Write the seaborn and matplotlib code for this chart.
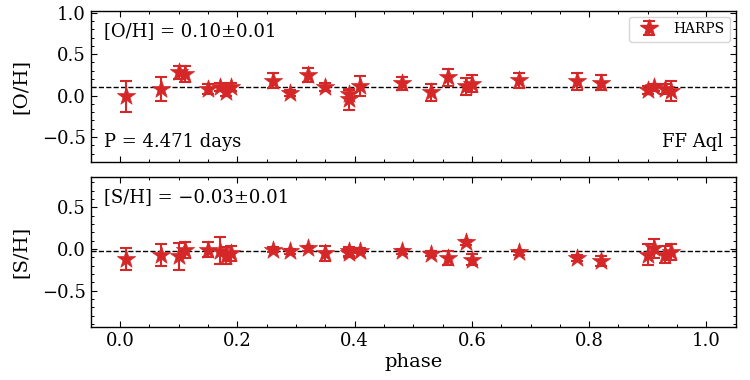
import numpy as np
import pandas as pd
import matplotlib
matplotlib.use("Agg")
import matplotlib.pyplot as plt
import seaborn as sns
from matplotlib.ticker import MultipleLocator, AutoMinorLocator
from matplotlib.lines import Line2D

phase = [0.01, 0.07, 0.10, 0.11, 0.15, 0.17, 0.18, 0.19, 0.26, 0.29, 0.32, 0.35,
         0.39, 0.39, 0.41, 0.48, 0.53, 0.56, 0.59, 0.60, 0.68, 0.78, 0.82, 0.90,
         0.91, 0.93, 0.94]
oh = [-0.01, 0.08, 0.28, 0.26, 0.08, 0.10, 0.04, 0.10, 0.18, 0.03, 0.245, 0.10,
      0.02, -0.045, 0.12, 0.15, 0.04, 0.22, 0.11, 0.145, 0.185, 0.17, 0.155, 0.07,
      0.10, 0.075, 0.055]
oh_err = [0.19, 0.15, 0.08, 0.10, 0.06, 0.05, 0.05, 0.05, 0.09, 0.04, 0.085, 0.05,
          0.05, 0.13, 0.12, 0.08, 0.10, 0.10, 0.10, 0.10, 0.09, 0.10, 0.09, 0.05,
          0.04, 0.06, 0.12]
sh = [-0.12, -0.07, -0.09, -0.01, -0.01, -0.02, -0.08, -0.05, -0.01, -0.03, 0.01, -0.05,
      -0.03, -0.05, -0.02, -0.03, -0.06, -0.11, 0.08, -0.13, -0.04, -0.11, -0.15, -0.07,
      0.01, -0.07, -0.04]
sh_err = [0.13, 0.13, 0.165, 0.10, 0.09, 0.16, 0.10, 0.09, 0.03, 0.03, 0.03, 0.09,
          0.05, 0.05, 0.03, 0.03, 0.03, 0.085, 0.03, 0.065, 0.03, 0.04, 0.06, 0.125,
          0.115, 0.10, 0.095]
oh_mean, oh_sig = 0.10, 0.01
sh_mean, sh_sig = -0.03, 0.01
period = 4.471
star = "FF Aql"
instrument = "HARPS"

df = pd.DataFrame({"phase": phase, "oh": oh, "oh_err": oh_err, "sh": sh, "sh_err": sh_err})

sns.set_theme(style="white")
plt.rcParams["font.family"] = ["DejaVu Serif"]
plt.rcParams["mathtext.fontset"] = "dejavuserif"
plt.rcParams["text.color"] = "black"
plt.rcParams["axes.labelcolor"] = "black"
plt.rcParams["xtick.color"] = "black"
plt.rcParams["ytick.color"] = "black"

red = "#d62728"
fs = 13
lfs = 14

fig = plt.figure(figsize=(7.5, 3.8), dpi=100)
ax1 = fig.add_axes([0.121, 0.574, 0.860, 0.397])
ax2 = fig.add_axes([0.121, 0.139, 0.860, 0.394])

def panel(ax, col, ecol, mean, ylim):
    eb = ax.errorbar(df["phase"], df[col], yerr=df[ecol], fmt="none", ecolor=red,
                     elinewidth=1.5, capsize=4, capthick=1.5, zorder=2)
    sns.scatterplot(data=df, x="phase", y=col, ax=ax, marker="*", s=190, color=red,
                    edgecolor=red, linewidth=0.5, zorder=3, legend=False)
    ax.axhline(mean, color="black", ls="--", lw=1.0, zorder=1)
    ax.set_xlim(-0.05, 1.05)
    ax.set_ylim(*ylim)
    ax.xaxis.set_major_locator(MultipleLocator(0.2))
    ax.xaxis.set_minor_locator(AutoMinorLocator(4))
    ax.yaxis.set_major_locator(MultipleLocator(0.5))
    ax.yaxis.set_minor_locator(AutoMinorLocator(5))
    ax.tick_params(which="both", direction="in", top=True, right=True,
                   bottom=True, left=True, labelsize=fs, colors="black")
    ax.tick_params(which="major", length=4, width=0.8)
    ax.tick_params(which="minor", length=2.2, width=0.7)
    for s in ax.spines.values():
        s.set_color("black")
        s.set_linewidth(1.0)
    return eb

eb1 = panel(ax1, "oh", "oh_err", oh_mean, (-0.8, 1.02))
panel(ax2, "sh", "sh_err", sh_mean, (-0.94, 0.86))

ax1.set_xlabel("")
ax1.tick_params(labelbottom=False)
ax1.set_ylabel("[O/H]", fontsize=lfs, labelpad=9)
ax2.set_ylabel("[S/H]", fontsize=lfs, labelpad=9)
ax2.set_xlabel("phase", fontsize=lfs, labelpad=2)

ax1.text(0.02, 0.93, f"[O/H] = {oh_mean:.2f}\u00b1{oh_sig:.2f}", transform=ax1.transAxes,
         fontsize=fs, va="top", ha="left")
ax1.text(0.02, 0.07, f"P = {period:.3f} days", transform=ax1.transAxes,
         fontsize=fs, va="bottom", ha="left")
ax1.text(0.98, 0.07, star, transform=ax1.transAxes, fontsize=fs, va="bottom", ha="right")
ax2.text(0.02, 0.93, f"[S/H] = \u2212{abs(sh_mean):.2f}\u00b1{sh_sig:.2f}", transform=ax2.transAxes,
         fontsize=fs, va="top", ha="left")

h_star = Line2D([], [], marker="*", color=red, ls="none", markersize=13)
ax1.legend(handles=[(eb1, h_star)], labels=[instrument], loc="upper right",
           fontsize=10, frameon=True, fancybox=True, framealpha=0.8, edgecolor="#cccccc",
           borderaxespad=0.4)

fig.savefig("out.png", dpi=100)
